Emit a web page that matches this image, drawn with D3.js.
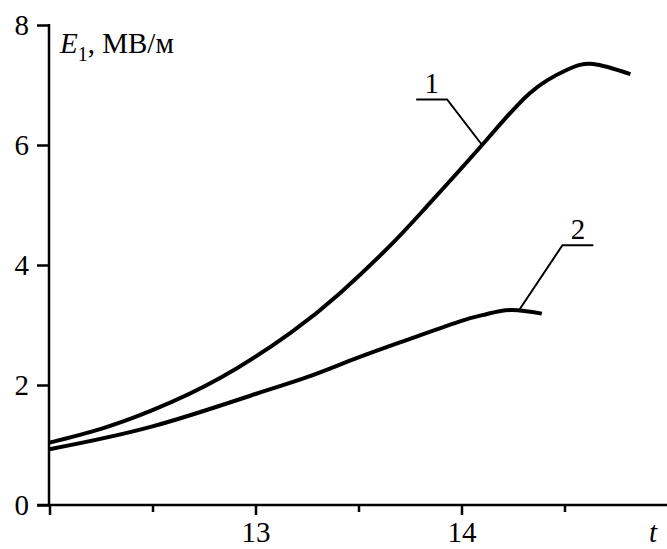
<!DOCTYPE html>
<html>
<head>
<meta charset="utf-8">
<script src="https://cdn.jsdelivr.net/npm/d3@7"></script>
<style>
  html, body { margin: 0; padding: 0; background: #fff; }
  svg { display: block; }
</style>
</head>
<body>
<div id="chart"></div>
<script>
// Field amplitude E1 (MV/m) versus t, two curves
const curve1T = [12.0, 12.25, 12.5, 12.83, 13.17, 13.41, 13.65, 13.83, 14.10, 14.33, 14.51, 14.64, 14.82];
const curve1E = [1.04, 1.27, 1.58, 2.12, 2.87, 3.53, 4.31, 4.97, 6.00, 6.86, 7.25, 7.35, 7.18];

const curve2T = [12.0, 12.5, 13.0, 13.25, 13.5, 13.75, 14.0, 14.12, 14.24, 14.39];
const curve2E = [0.93, 1.31, 1.85, 2.13, 2.46, 2.77, 3.07, 3.18, 3.25, 3.19];

const xTickValues = [12, 12.5, 13, 13.5, 14, 14.5];
const xTickLabels = ["", "", "13", "", "14", ""];
const yTickValues = [0, 2, 4, 6, 8];
const yTickLabels = ["0", "2", "4", "6", "8"];

const curveLabels = ["1", "2"];
// leader lines: [point on curve, knee, end] in data units
const leader1 = [[14.10, 6.00], [13.93, 6.76], [13.78, 6.76]];
const leader2 = [[14.28, 3.25], [14.49, 4.33], [14.64, 4.33]];
const labelPos = [[13.855, 6.86], [14.565, 4.43]];

const W = 667, H = 549;
const FONT = "'Liberation Serif', 'Times New Roman', serif";
const FS = 29;

const svg = d3.select("#chart").append("svg")
  .attr("width", W).attr("height", H)
  .style("font-family", FONT);

const x = d3.scaleLinear().domain([12, 15]).range([49.5, 667.5]);
const y = d3.scaleLinear().domain([0, 8]).range([505, 25]);

// X axis
const xAxis = d3.axisBottom(x)
  .tickValues(xTickValues)
  .tickSize(10)
  .tickSizeOuter(0)
  .tickFormat((d, i) => xTickLabels[i]);
const gx = svg.append("g").attr("transform", `translate(0,${y(0)})`).call(xAxis)
  .attr("font-family", FONT).attr("font-size", FS);
gx.select(".domain").remove();
gx.selectAll(".tick line")
  .attr("stroke", "#000").attr("stroke-width", 2.5)
  .attr("y2", (d, i) => xTickLabels[i] === "" && d !== 12 ? 7 : 10);
gx.selectAll(".tick text")
  .attr("y", 37).attr("dy", 0)
  .attr("fill", "#000");
svg.append("line")
  .attr("x1", 37).attr("x2", W)
  .attr("y1", y(0)).attr("y2", y(0))
  .attr("stroke", "#000").attr("stroke-width", 2.5);

// Y axis
const yAxis = d3.axisLeft(y)
  .tickValues(yTickValues)
  .tickSize(12)
  .tickSizeOuter(0)
  .tickPadding(8)
  .tickFormat((d, i) => yTickLabels[i]);
const gy = svg.append("g").attr("transform", `translate(${x(12) - 0.5},0)`).call(yAxis)
  .attr("font-family", FONT).attr("font-size", FS);
gy.select(".domain").remove();
gy.selectAll(".tick line").attr("stroke", "#000").attr("stroke-width", 2.5);
gy.selectAll(".tick text").attr("dy", "0.33em").attr("fill", "#000");
svg.append("line")
  .attr("x1", x(12) - 0.5).attr("x2", x(12) - 0.5)
  .attr("y1", y(8) - 1).attr("y2", y(0))
  .attr("stroke", "#000").attr("stroke-width", 2.5);

// Axis titles
const title = svg.append("text")
  .attr("x", 60).attr("y", 53)
  .attr("font-size", FS);
title.append("tspan").attr("font-style", "italic").text("E");
title.append("tspan").attr("dy", 8).attr("font-size", 20).text("1");
title.append("tspan").attr("dy", -8).text(", МВ/м");

svg.append("text")
  .attr("x", 649).attr("y", 542)
  .attr("font-style", "italic")
  .attr("font-size", FS)
  .text("t");

// Curves
const line = d3.line()
  .x(d => x(d[0]))
  .y(d => y(d[1]))
  .curve(d3.curveNatural);

const series = [
  d3.zip(curve1T, curve1E),
  d3.zip(curve2T, curve2E)
];
svg.selectAll("path.curve")
  .data(series)
  .join("path")
  .attr("class", "curve")
  .attr("d", line)
  .attr("fill", "none")
  .attr("stroke", "#000")
  .attr("stroke-width", 4)
  .attr("stroke-linecap", "butt");

// Leaders and labels
const straight = d3.line().x(d => x(d[0])).y(d => y(d[1]));
[leader1, leader2].forEach(l => {
  svg.append("path")
    .attr("d", straight(l))
    .attr("fill", "none")
    .attr("stroke", "#000")
    .attr("stroke-width", 2);
});
labelPos.forEach((p, i) => {
  svg.append("text")
    .attr("x", x(p[0])).attr("y", y(p[1]))
    .attr("text-anchor", "middle")
    .attr("font-size", FS)
    .text(curveLabels[i]);
});
</script>
</body>
</html>
